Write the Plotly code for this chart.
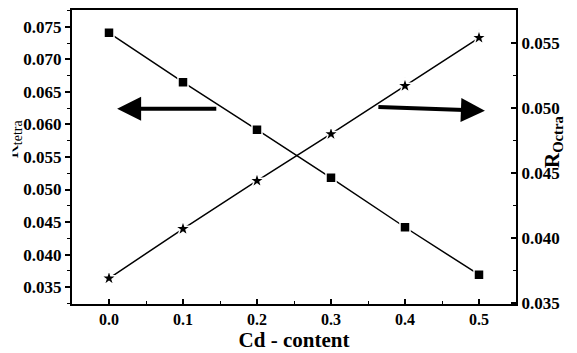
import plotly.graph_objects as go

cd_content = [0.0, 0.1, 0.2, 0.3, 0.4, 0.5]
r_tetra = [0.0741, 0.0665, 0.0592, 0.0518, 0.0442, 0.0369]
r_octra = [0.0369, 0.0407, 0.0444, 0.0480, 0.0517, 0.0554]

FONT = "Liberation Serif"

fig = go.Figure()
fig.add_trace(go.Scatter(
    x=cd_content, y=r_tetra, mode="lines+markers",
    line=dict(color="black", width=1.5),
    marker=dict(symbol="square", size=10, color="black", line=dict(color="white", width=1.5)),
    yaxis="y", showlegend=False))
fig.add_trace(go.Scatter(
    x=cd_content, y=r_octra, mode="lines+markers",
    line=dict(color="black", width=1.5),
    marker=dict(symbol="star", size=12, color="black", line=dict(color="white", width=1.5)),
    yaxis="y2", showlegend=False))

tickfont = dict(family=FONT, size=17, color="black", weight="bold")
xtickfont = dict(family=FONT, size=16, color="black", weight="bold")

L, R, T, B = 72, 61, 10, 49
W, H = 577, 353
pw, ph = W - L - R, H - T - B


def px_x(p):
    return (p - L) / pw


def px_y(p):
    return (H - B - p) / ph


fig.update_layout(
    width=W, height=H,
    margin=dict(l=L, r=R, t=T, b=B, autoexpand=False),
    plot_bgcolor="white", paper_bgcolor="white",
    xaxis=dict(
        range=[-0.05, 0.55], tickvals=[0, 0.1, 0.2, 0.3, 0.4, 0.5],
        ticktext=["0.0", "0.1", "0.2", "0.3", "0.4", "0.5"],
        ticks="inside", ticklen=5, tickwidth=1.5, tickcolor="black",
        minor=dict(dtick=0.05, tick0=0, ticks="inside", ticklen=3, tickwidth=1, tickcolor="black"),
        showline=True, linecolor="black", linewidth=2, mirror=True,
        showgrid=False, zeroline=False, tickfont=xtickfont, automargin=False,
        title=dict(text="Cd - content", font=dict(family=FONT, size=21, color="black", weight="bold"), standoff=0),
    ),
    yaxis=dict(
        range=[0.0324, 0.0776], dtick=0.005, tick0=0.035, tickformat=".3f",
        ticks="outside", ticklen=5, tickwidth=1.5, tickcolor="black",
        minor=dict(dtick=0.0025, ticks="outside", ticklen=3, tickwidth=1, tickcolor="black"),
        showline=True, linecolor="black", linewidth=2, automargin=False,
        showgrid=False, zeroline=False, tickfont=tickfont,
    ),
    yaxis2=dict(
        overlaying="y", side="right",
        range=[0.03492, 0.05754], dtick=0.005, tick0=0.035, tickformat=".3f",
        ticks="inside", ticklen=5, tickwidth=1.5, tickcolor="black",
        minor=dict(dtick=0.0025, ticks="inside", ticklen=3, tickwidth=1, tickcolor="black"),
        showline=True, linecolor="black", linewidth=2, automargin=False,
        showgrid=False, zeroline=False, tickfont=tickfont,
    ),
)

fig.add_annotation(x=0.011, y=0.0624, xref="x", yref="y", ax=0.147, ay=0.0624, axref="x", ayref="y",
                   text="", showarrow=True, arrowhead=2, arrowsize=1.2, arrowwidth=4, arrowcolor="black")
fig.add_annotation(x=0.508, y=0.0621, xref="x", yref="y", ax=0.362, ay=0.0627, axref="x", ayref="y",
                   text="", showarrow=True, arrowhead=2, arrowsize=1.2, arrowwidth=4, arrowcolor="black")
fig.add_annotation(x=px_x(553), y=px_y(142), xref="paper", yref="paper", xanchor="center", yanchor="middle",
                   text="R<sub>Octra</sub>", textangle=-90, showarrow=False,
                   font=dict(family=FONT, size=21, color="black", weight="bold"))
# left title, partially cut off at the left edge as in the reference
fig.add_annotation(x=px_x(26), y=px_y(139), xref="paper", yref="paper", xanchor="right", yanchor="middle",
                   text="R<sub>tetra</sub>", textangle=-90, showarrow=False,
                   font=dict(family=FONT, size=20, color="black"))
fig.add_annotation(x=px_x(0), y=px_y(139), xref="paper", yref="paper", xanchor="left", yanchor="middle",
                   text=" ", width=11, height=50, bgcolor="white", showarrow=False, borderpad=0,
                   font=dict(size=4))

fig.write_html("out.html", config={"displayModeBar": False},
               post_script="document.body.style.margin='0';document.body.style.padding='0';")
